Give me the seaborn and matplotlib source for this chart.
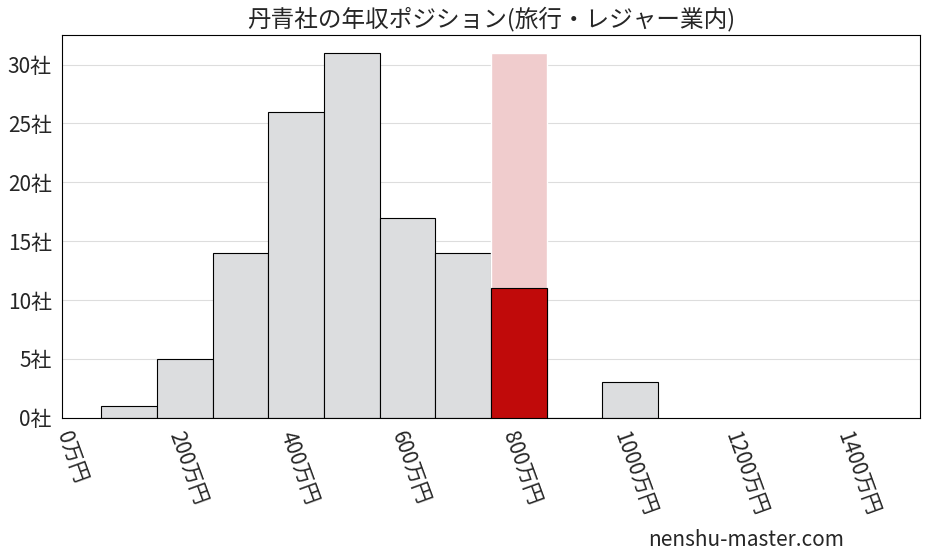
import numpy as np
import pandas as pd
import matplotlib
matplotlib.use("Agg")
import matplotlib.pyplot as plt
import seaborn as sns

centers = [100, 200, 300, 400, 500, 600, 700, 800, 900, 1000]
counts = [1, 5, 14, 26, 31, 17, 14, 11, 0, 3]
highlight_center = 800
highlight_count = 11
xticks = [0, 200, 400, 600, 800, 1000, 1200, 1400]
yticks = [0, 5, 10, 15, 20, 25, 30]

sns.set_style("white")
plt.rcParams['font.family'] = ['Noto Sans CJK JP', 'DejaVu Sans']

fig, ax = plt.subplots(figsize=(9.28, 5.57), dpi=100)
df = pd.DataFrame({"x": centers, "n": counts})
sns.histplot(data=df, x="x", weights="n", binwidth=100, binrange=(50, 1050),
             color="#dcdddf", edgecolor="black", linewidth=0.8, alpha=1, ax=ax)
# highlight column
ax.bar([highlight_center], [max(counts)], width=100, color="#f0cccd", zorder=1)
ax.bar([highlight_center], [highlight_count], width=100, color="#c00a0a",
       edgecolor="black", linewidth=0.8, zorder=3)

ax.set_xlim(-20, 1520)
ax.set_ylim(0, 32.5)
ax.set_xticks(xticks)
ax.set_xticklabels([f"{v}万円" for v in xticks], rotation=-70, ha="left",
                   rotation_mode="anchor", fontsize=15)
ax.set_yticks(yticks)
ax.set_yticklabels([f"{v}社" for v in yticks], fontsize=15)
ax.yaxis.grid(True, color="#dddddd", linewidth=0.8)
ax.set_axisbelow(True)
ax.set_xlabel("")
ax.set_ylabel("")
ax.tick_params(axis="both", length=4)
for s in ax.spines.values():
    s.set_color("black")
ax.set_title("丹青社の年収ポジション(旅行・レジャー業内)", fontsize=17)
fig.text(0.91, 0.02, "nenshu-master.com", ha="right", fontsize=15)
fig.subplots_adjust(left=0.067, right=0.991, top=0.937, bottom=0.25)
fig.savefig("out.png")
